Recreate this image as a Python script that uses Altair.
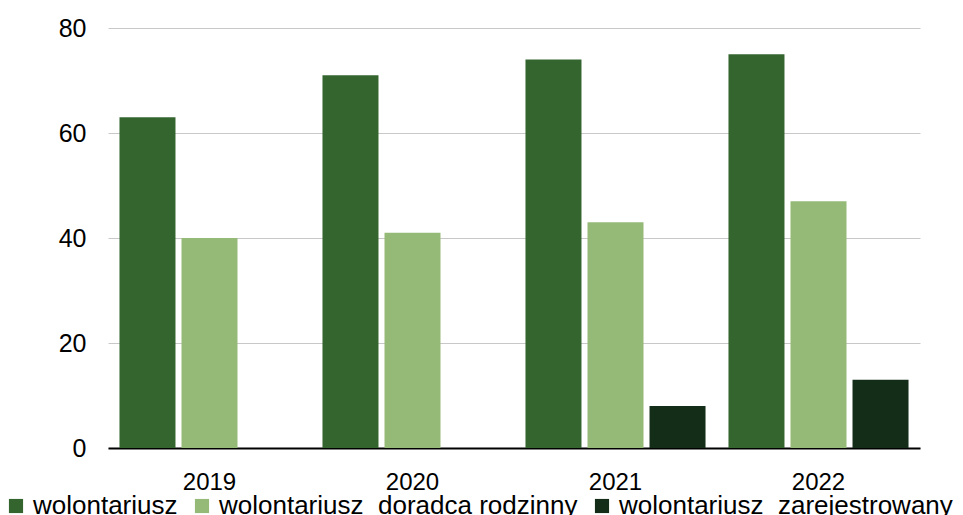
import altair as alt
import pandas as pd

years = ["2019", "2020", "2021", "2022"]
series = ["wolontariusz", "wolontariusz\u00a0\u00a0doradca rodzinny", "wolontariusz\u00a0\u00a0zarejestrowany"]
v_wol = [63, 71, 74, 75]
v_dor = [40, 41, 43, 47]
v_zar = [0, 0, 8, 13]
colors = ["#35652E", "#95BA77", "#132D18"]

rows = []
for i, y in enumerate(years):
    for s, vals in zip(series, [v_wol, v_dor, v_zar]):
        rows.append({"rok": y, "seria": s, "wartosc": vals[i]})
df = pd.DataFrame(rows)

font = "Liberation Sans"

chart = alt.Chart(df).mark_bar().encode(
    x=alt.X("rok:N", sort=years, title=None,
            scale=alt.Scale(paddingInner=0, paddingOuter=0),
            axis=alt.Axis(labelAngle=0, labelFontSize=24, labelFont=font, labelColor="#000000",
                          ticks=False, domainColor="#000000", domainWidth=2, labelPadding=22)),
    xOffset=alt.XOffset("seria:N", sort=series,
                        scale=alt.Scale(paddingInner=0.097, paddingOuter=0.185)),
    y=alt.Y("wartosc:Q", title=None,
            scale=alt.Scale(domain=[0, 80]),
            axis=alt.Axis(values=[0, 20, 40, 60, 80], labelFontSize=25, labelFont=font,
                          labelColor="#000000", ticks=False, domain=False,
                          gridColor="#C8C8C8", gridWidth=1, labelPadding=22)),
    color=alt.Color("seria:N", sort=series, scale=alt.Scale(domain=series, range=colors),
                    legend=alt.Legend(title=None, orient="none", direction="horizontal",
                                      legendX=-105, legendY=465, padding=0,
                                      symbolType="square", symbolSize=200, symbolStrokeWidth=0,
                                      labelFontSize=26, labelFont=font, labelColor="#000000",
                                      labelOffset=4, columnPadding=11, labelLimit=600)),
).properties(
    width=812, height=420,
    autosize=alt.AutoSizeParams(type="none"),
    padding={"left": 100, "top": 20, "right": 35, "bottom": 67},
).configure_view(stroke=None)

chart.save("out.html", embed_options={"renderer": "svg", "actions": False})
